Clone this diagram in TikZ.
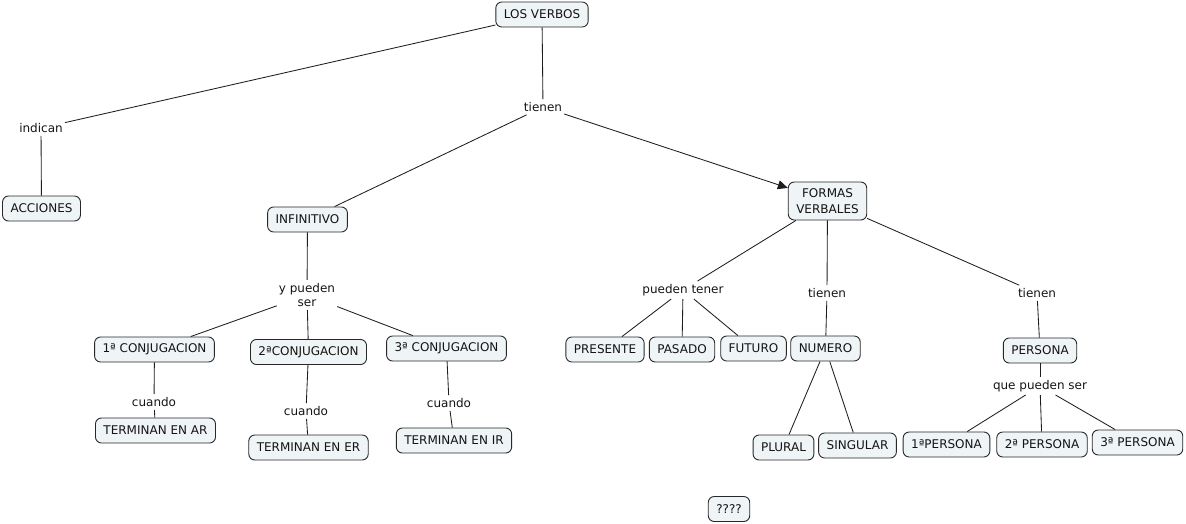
\documentclass[tikz,border=0pt]{standalone}
\usepackage{fontspec}
\setmainfont{DejaVu Sans}
\usetikzlibrary{arrows.meta}
\definecolor{boxfill}{RGB}{239,244,246}
\definecolor{boxline}{RGB}{40,40,40}
\definecolor{lineclr}{RGB}{30,30,30}
\definecolor{txt}{RGB}{20,20,20}
\begin{document}
\begin{tikzpicture}[x=1pt,y=-1pt,
  every node/.style={font=\fontsize{12}{14.5}\selectfont, text=txt},
  concept/.style={draw=boxline, fill=boxfill, line width=0.9pt, rounded corners=6pt,
    minimum height=25pt, inner xsep=8pt, inner ysep=3pt, align=center},
  lbl/.style={inner xsep=2pt, inner ysep=3pt, align=center},
  conn/.style={draw=lineclr, line width=0.85pt},
  arr/.style={conn, -{Triangle[length=10pt,width=9pt]}}]
\useasboundingbox (0,0) rectangle (1186,523);
% concepts
\node[concept] (lv) at (542,14.5) {LOS VERBOS};
\node[concept] (acc) at (41.5,208.5) {ACCIONES};
\node[concept] (inf) at (307.5,219.5) {INFINITIVO};
\node[concept, minimum height=38pt, inner ysep=2pt, font=\fontsize{12}{16}\selectfont] (fv) at (827.5,201) {FORMAS\\VERBALES};
\node[concept] (c1) at (154.5,349.5) {1ª CONJUGACION};
\node[concept] (c2) at (308.5,352) {2ªCONJUGACION};
\node[concept] (c3) at (446.5,348.5) {3ª CONJUGACION};
\node[concept] (t1) at (155.5,430.5) {TERMINAN EN AR};
\node[concept] (t2) at (308.5,447.5) {TERMINAN EN ER};
\node[concept] (t3) at (454,440.5) {TERMINAN EN IR};
\node[concept] (pre) at (605,349.5) {PRESENTE};
\node[concept] (pas) at (682,349.5) {PASADO};
\node[concept] (fut) at (753.5,348.5) {FUTURO};
\node[concept] (num) at (825.5,348.5) {NUMERO};
\node[concept] (per) at (1040,350.5) {PERSONA};
\node[concept] (plu) at (783.5,447.5) {PLURAL};
\node[concept] (sin) at (857.5,445.5) {SINGULAR};
\node[concept] (p1) at (946.5,444.5) {1ªPERSONA};
\node[concept] (p2) at (1042,444.5) {2ª PERSONA};
\node[concept] (p3) at (1137.5,442.5) {3ª PERSONA};
\node[concept] (q) at (729,509) {????};
% labels
\node[lbl] (ind) at (41,128) {indican};
\node[lbl] (tie) at (543,107) {tienen};
\node[lbl] (yps) at (307,295) {y pueden\\ser};
\node[lbl] (cu1) at (154,402) {cuando};
\node[lbl] (cu2) at (306,411) {cuando};
\node[lbl] (cu3) at (449,403) {cuando};
\node[lbl] (pt) at (683,290) {pueden tener};
\node[lbl] (tm) at (827,293) {tienen};
\node[lbl] (tr) at (1037,293) {tienen};
\node[lbl] (qps) at (1040,386) {que pueden ser};
% connectors
\draw[conn] (lv) -- (ind);
\draw[conn] (ind) -- (acc);
\draw[conn] (lv) -- (tie);
\draw[conn] (tie) -- (inf);
\draw[arr] (tie) -- (fv);
\draw[conn] (inf) -- (yps);
\draw[conn] (yps) -- (c1);
\draw[conn] (yps) -- (c2);
\draw[conn] (yps) -- (c3);
\draw[conn] (c1) -- (cu1);
\draw[conn] (cu1) -- (t1);
\draw[conn] (c2) -- (cu2);
\draw[conn] (cu2) -- (t2);
\draw[conn] (c3) -- (cu3);
\draw[conn] (cu3) -- (t3);
\draw[conn] (fv) -- (pt);
\draw[conn] (fv) -- (tm);
\draw[conn] (fv) -- (tr);
\draw[conn] (pt) -- (pre);
\draw[conn] (pt) -- (pas);
\draw[conn] (pt) -- (fut);
\draw[conn] (tm) -- (num);
\draw[conn] (num) -- (plu);
\draw[conn] (num) -- (sin);
\draw[conn] (tr) -- (per);
\draw[conn] (per) -- (qps);
\draw[conn] (qps) -- (p1);
\draw[conn] (qps) -- (p2);
\draw[conn] (qps) -- (p3);
\end{tikzpicture}
\end{document}
